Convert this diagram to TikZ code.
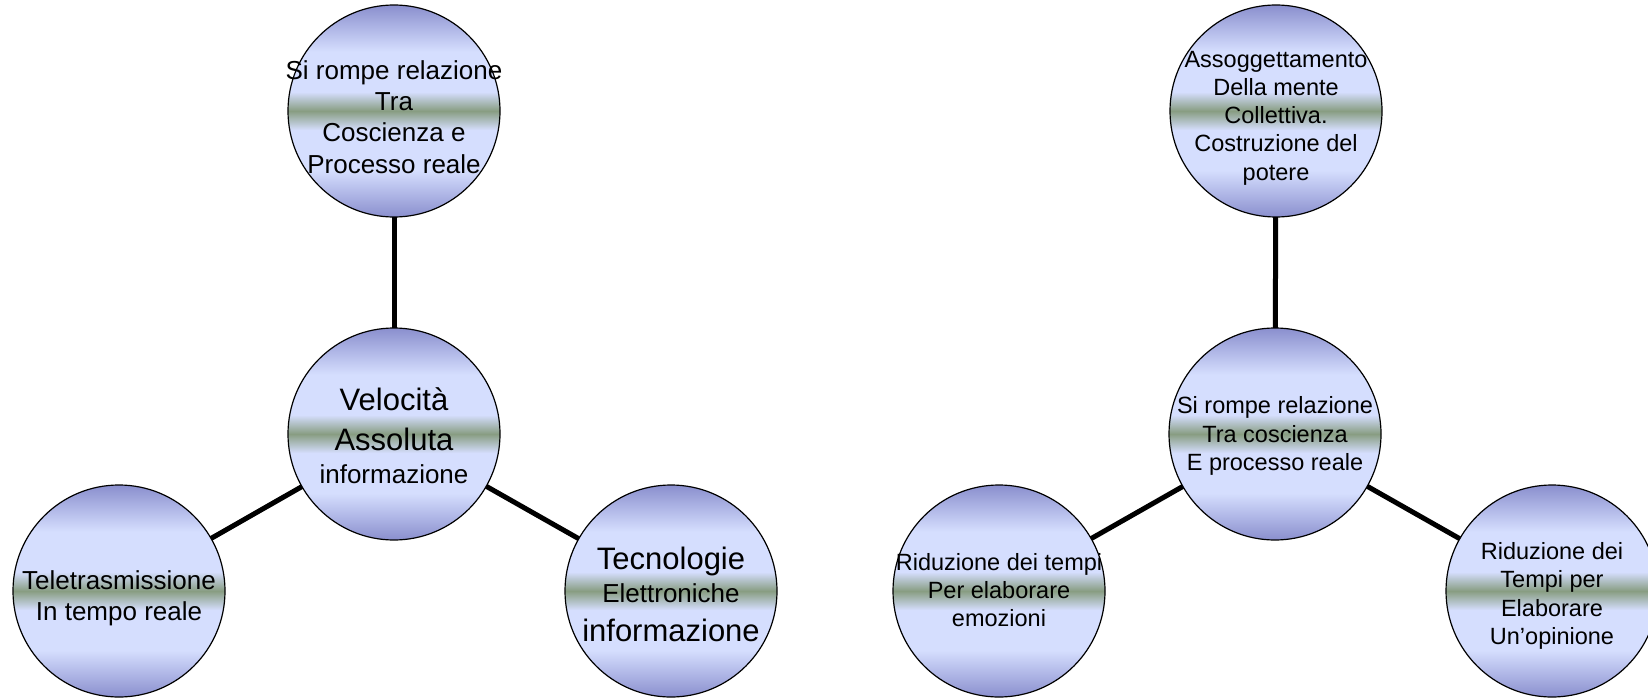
\documentclass[tikz,border=0pt]{standalone}
\usepackage{fontspec}
\setmainfont{Liberation Sans}
\usetikzlibrary{backgrounds}
\definecolor{ballDark}{RGB}{138,143,206}
\definecolor{ballLight}{RGB}{213,222,254}
\definecolor{ballBand}{RGB}{136,157,130}
\pgfdeclareverticalshading{ballshade}{100bp}{color(0bp)=(ballDark); color(25bp)=(ballDark); color(36bp)=(ballLight); color(45.5bp)=(ballLight); color(50bp)=(ballBand); color(54.5bp)=(ballLight); color(64bp)=(ballLight); color(75bp)=(ballDark); color(100bp)=(ballDark)}
\tikzset{
  ball/.style={circle, draw=black, line width=1.2pt, minimum size=212pt, inner sep=0pt, shade, shading=ballshade},
  bigtxt/.style={align=center, inner sep=0pt, font=\fontsize{26}{31.2}\selectfont},
  smalltxt/.style={align=center, inner sep=0pt, font=\fontsize{23.5}{28.2}\selectfont},
  link/.style={line width=5pt, draw=black}
}
\begin{document}
\begin{tikzpicture}[x=1pt,y=-1pt]
\useasboundingbox (0,0) rectangle (1648,698);
% left group
\node[ball] (lt) at (394,111) {};
\node[ball] (lc) at (394,434) {};
\node[ball] (lbl) at (119,591) {};
\node[ball] (lbr) at (671,591) {};
% right group
\node[ball] (rt) at (1276,111) {};
\node[ball] (rc) at (1275,434) {};
\node[ball] (rbl) at (999,591) {};
\node[ball] (rbr) at (1552,591) {};
\begin{scope}[on background layer]
\draw[link] (lt.center) -- (lc.center);
\draw[link] (lc.center) -- (lbl.center);
\draw[link] (lc.center) -- (lbr.center);
\draw[link] (rt.center) -- (rc.center);
\draw[link] (rc.center) -- (rbl.center);
\draw[link] (rc.center) -- (rbr.center);
\end{scope}
% texts
\node[bigtxt] (ltt) at (394,117) {Si rompe relazione\\Tra\\Coscienza e\\Processo reale};
\node[bigtxt] (lct) at (394,436) {{\fontsize{31}{37}\selectfont Velocità}\\[8.8pt]{\fontsize{31}{37}\selectfont Assoluta}\\[1.8pt]informazione};
\node[bigtxt] (lblt) at (119,598) {Teletrasmissione\\In tempo reale};
\node[bigtxt] (lbrt) at (671,594) {{\fontsize{31}{37}\selectfont Tecnologie}\\[1.8pt]Elettroniche\\[7.8pt]{\fontsize{31}{37}\selectfont informazione}};
\node[smalltxt] (rtt) at (1276,118) {Assoggettamento\\Della mente\\Collettiva.\\Costruzione del\\potere};
\node[smalltxt] (rct) at (1275,436) {Si rompe relazione\\Tra coscienza\\E processo reale};
\node[smalltxt] (rblt) at (999,590) {Riduzione dei tempi\\Per elaborare\\emozioni};
\node[smalltxt] (rbrt) at (1552,596) {Riduzione dei\\Tempi per\\Elaborare\\Un’opinione};
\end{tikzpicture}
\end{document}
